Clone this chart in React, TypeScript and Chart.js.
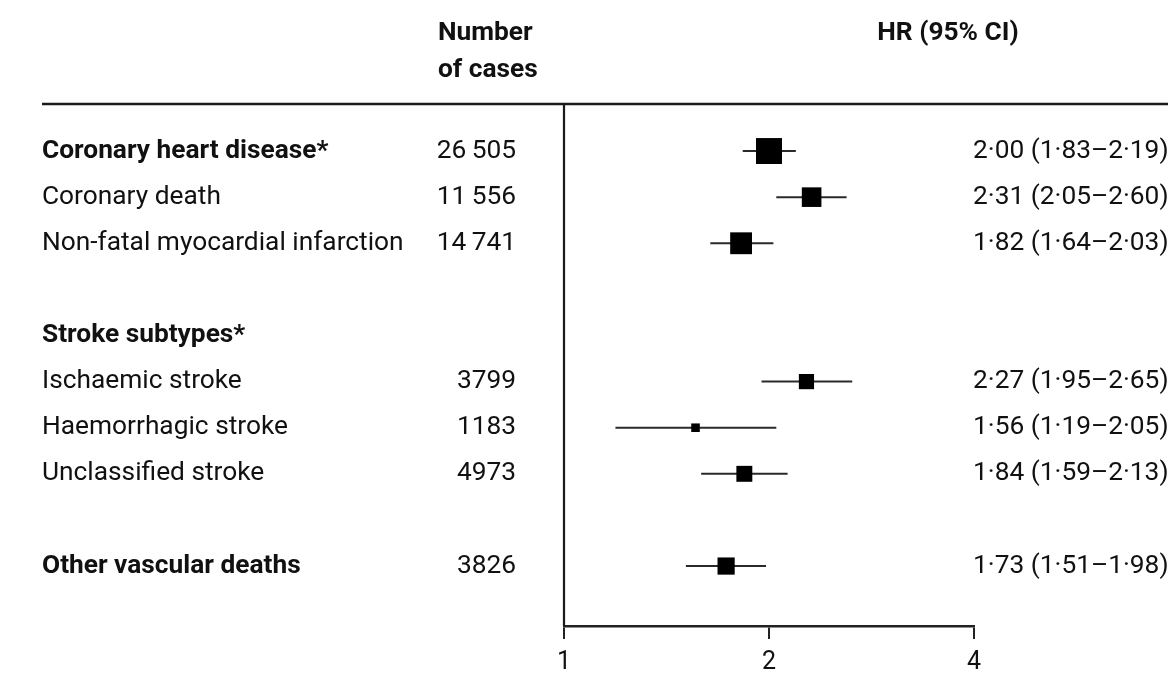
import React, { useEffect, useRef } from "react";
import { Chart, registerables } from "chart.js";

Chart.register(...registerables);

// ---- data ----
const headerCases = ["Number", "of cases"];
const headerHR = "HR (95% CI)";
const rowLabels = [
  "Coronary heart disease*",
  "Coronary death",
  "Non-fatal myocardial infarction",
  "",
  "Stroke subtypes*",
  "Ischaemic stroke",
  "Haemorrhagic stroke",
  "Unclassified stroke",
  "",
  "Other vascular deaths",
];
const boldRows = [true, false, false, false, true, false, false, false, false, true];
const cases: (number | null)[] = [26505, 11556, 14741, null, null, 3799, 1183, 4973, null, 3826];
const hr: (number | null)[] = [2.0, 2.31, 1.82, null, null, 2.27, 1.56, 1.84, null, 1.73];
const ciLow: (number | null)[] = [1.83, 2.05, 1.64, null, null, 1.95, 1.19, 1.59, null, 1.51];
const ciHigh: (number | null)[] = [2.19, 2.6, 2.03, null, null, 2.65, 2.05, 2.13, null, 1.98];
const xTicks = [1, 2, 4];

const FONT = "Roboto, 'Open Sans', sans-serif";

const fmtNum = (v: number) => v.toFixed(2).replace(".", "\u00B7");
const fmtCases = (v: number | null) => {
  if (v == null) return "";
  const s = String(v);
  return v >= 10000 ? s.slice(0, s.length - 3) + "\u2009" + s.slice(-3) : s;
};

const tablePlugin = {
  id: "forestTable",
  beforeDatasetsDraw(chart: any) {
    const { ctx, chartArea, scales } = chart;
    ctx.save();
    ctx.strokeStyle = "#1a1a1a";
    ctx.lineWidth = 2.5;
    ctx.beginPath();
    ctx.moveTo(42, chartArea.top);
    ctx.lineTo(chart.width, chartArea.top);
    ctx.stroke();
    const x1 = scales.x.getPixelForValue(1);
    ctx.lineWidth = 2.2;
    ctx.beginPath();
    ctx.moveTo(x1, chartArea.top);
    ctx.lineTo(x1, chartArea.bottom);
    ctx.stroke();
    ctx.restore();
  },
  afterDraw(chart: any) {
    const { ctx, scales } = chart;
    const y = scales.y;
    ctx.save();
    // fit text size so the longest label spans the same width as in the source
    ctx.font = `100px ${FONT}`;
    const w = ctx.measureText(rowLabels[2]).width;
    const size = Math.round((100 * 362) / w * 10) / 10;
    ctx.fillStyle = "#111";
    ctx.textBaseline = "middle";
    ctx.font = `bold ${size}px ${FONT}`;
    ctx.textAlign = "left";
    ctx.fillText(headerCases[0], 438, 33);
    ctx.fillText(headerCases[1], 438, 70);
    ctx.textAlign = "center";
    ctx.fillText(headerHR, 948, 33);
    rowLabels.forEach((label, i) => {
      const py = y.getPixelForValue(i);
      ctx.font = `${boldRows[i] ? "bold " : ""}${size}px ${FONT}`;
      ctx.textAlign = "left";
      if (label) ctx.fillText(label, 42, py);
      ctx.font = `${size}px ${FONT}`;
      ctx.textAlign = "right";
      const c = fmtCases(cases[i]);
      if (c) ctx.fillText(c, 516, py);
      const h = hr[i], lo = ciLow[i], hi = ciHigh[i];
      if (h != null && lo != null && hi != null) {
        ctx.textAlign = "left";
        ctx.fillText(`${fmtNum(h)} (${fmtNum(lo)}\u2013${fmtNum(hi)})`, 973, py);
      }
    });
    ctx.restore();
  },
};

export default function App() {
  const ref = useRef<HTMLCanvasElement | null>(null);
  useEffect(() => {
    if (!ref.current) return;
    const datasets: any[] = [];
    const pts: any[] = [];
    const radii: number[] = [];
    rowLabels.forEach((_, i) => {
      const h = hr[i], lo = ciLow[i], hi = ciHigh[i];
      if (h == null || lo == null || hi == null) return;
      datasets.push({
        type: "line",
        data: [
          { x: lo, y: i },
          { x: hi, y: i },
        ],
        borderColor: "#2a2a2a",
        borderWidth: 2,
        pointRadius: 0,
        showLine: true,
        order: 2,
      });
      pts.push({ x: h, y: i });
      // square side proportional to inverse standard error (from CI width)
      const side = 4.66 / Math.log(hi / lo);
      radii.push(side / Math.SQRT2);
    });
    datasets.push({
      type: "scatter",
      data: pts,
      pointStyle: "rect",
      pointRadius: radii,
      pointHoverRadius: radii,
      backgroundColor: "#000",
      borderWidth: 0,
      order: 1,
    });
    const chart = new Chart(ref.current, {
      type: "scatter",
      data: { datasets },
      plugins: [tablePlugin],
      options: {
        animation: false,
        responsive: false,
        devicePixelRatio: 1,
        layout: { padding: { left: 564, right: 194, top: 104, bottom: 14 } },
        plugins: { legend: { display: false }, tooltip: { enabled: false } },
        scales: {
          x: {
            type: "logarithmic",
            min: 1,
            max: 4,
            afterBuildTicks: (scale: any) => {
              scale.ticks = xTicks.map((v) => ({ value: v }));
            },
            ticks: {
              callback: (v: any) => String(v),
              font: { family: FONT, size: 25, lineHeight: 1 },
              color: "#111",
              padding: 11,
              autoSkip: false,
              maxRotation: 0,
            },
            grid: {
              display: true,
              drawOnChartArea: false,
              drawTicks: true,
              tickLength: 13,
              color: "#222",
              lineWidth: 2,
            },
            border: { display: true, color: "#222", width: 2.5 },
          },
          y: {
            type: "linear",
            display: false,
            reverse: true,
            min: -1.02,
            max: 10.3,
          },
        },
      },
    });
    return () => chart.destroy();
  }, []);
  return (
    <div style={{ position: "fixed", left: 0, top: 0, width: 1168, height: 675, overflow: "hidden", background: "#fff" }}>
      <canvas ref={ref} width={1168} height={700} style={{ display: "block" }} />
    </div>
  );
}
